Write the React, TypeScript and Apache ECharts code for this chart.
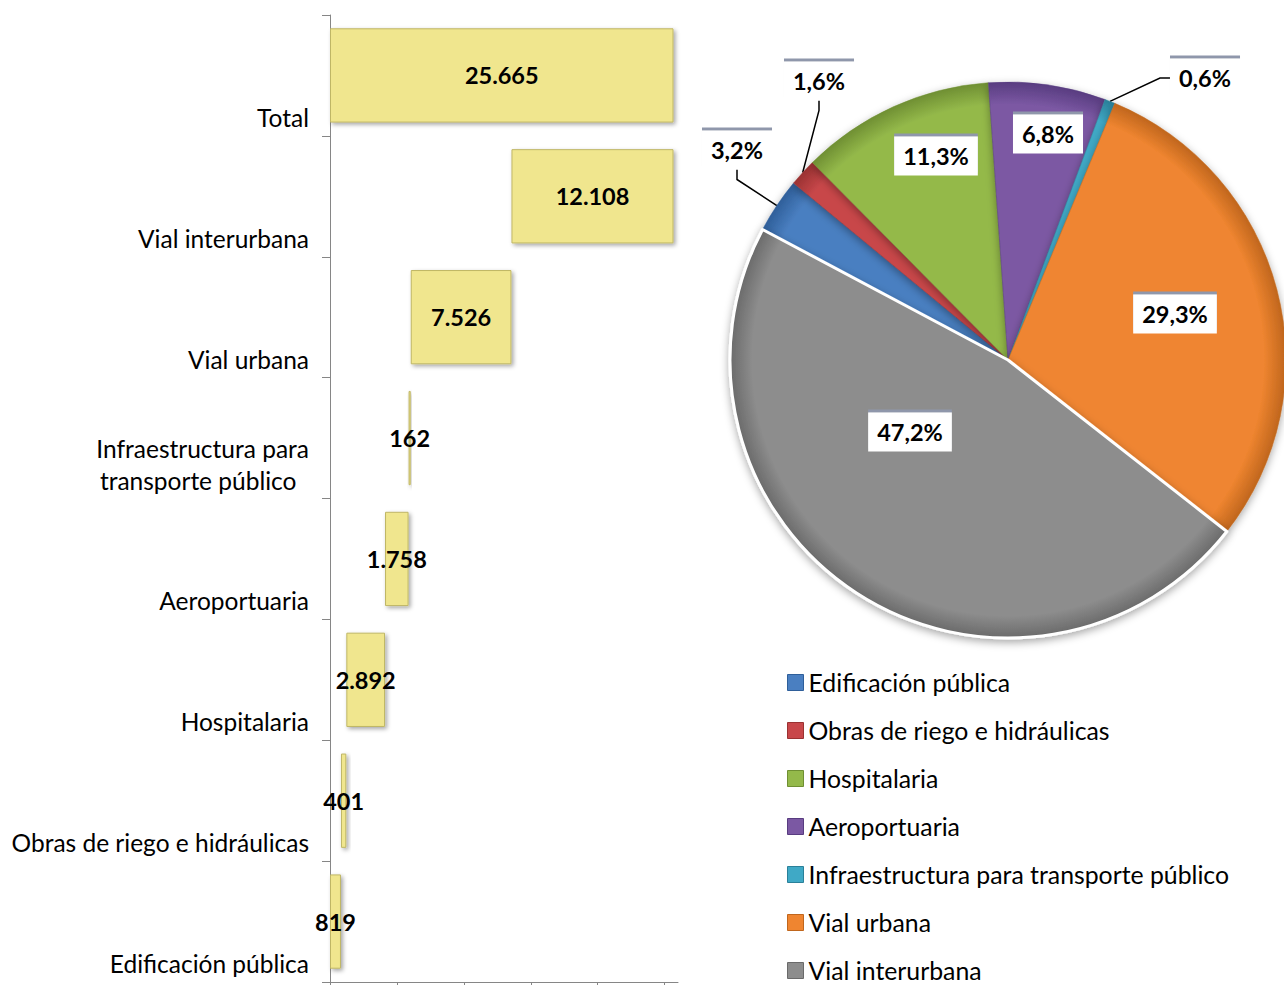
import React, { useEffect, useRef } from 'react';
import * as echarts from 'echarts';

// ---------- data ----------
const categories = [
  'Edificación pública',
  'Obras de riego e hidráulicas',
  'Hospitalaria',
  'Aeroportuaria',
  'Infraestructura para transporte público',
  'Vial urbana',
  'Vial interurbana',
  'Total',
];
const amounts = [819, 401, 2892, 1758, 162, 7526, 12108, 25665];
const xTicks = [0, 5000, 10000, 15000, 20000, 25000];

const pieNames = [
  'Edificación pública',
  'Obras de riego e hidráulicas',
  'Hospitalaria',
  'Aeroportuaria',
  'Infraestructura para transporte público',
  'Vial urbana',
  'Vial interurbana',
];
const pieShares = [3.2, 1.6, 11.3, 6.8, 0.6, 29.3, 47.2];

// ---------- styles ----------
const pieColors = ['#4A7FC1', '#C8474A', '#94B94A', '#7B58A3', '#3FA9C6', '#EF8530', '#8D8D8D'];
const pieRims = ['#2F5F9A', '#9A3232', '#6F8F33', '#583C80', '#2A8099', '#C0661D', '#6A6A6A'];
const FONT = 'Lato, "Noto Sans", sans-serif';
const FS = 24.5;
const FSB = 23.5;
const PIE_C = [1008, 360];
const PIE_R = 278;
// label centres relative to pie centre (layout styling)
const labelOffsets = [
  [-271, -210],
  [-189, -279],
  [-72, -204],
  [40, -226],
  [197, -282],
  [167, -46],
  [-98, 72],
];
const outsideLabel = [true, true, false, false, true, false, false];
const INFRA = 'Infraestructura para transporte público';

const fmtThousands = (v: number) => String(v).replace(/\B(?=(\d{3})+(?!\d))/g, '.');
const fmtPct = (v: number) => v.toFixed(1).replace('.', ',') + '%';

// waterfall invisible bases
const bases = amounts.map((_, i) =>
  i === amounts.length - 1 ? 0 : amounts.slice(0, i).reduce((a, b) => a + b, 0)
);

const option: any = {
  animation: false,
  backgroundColor: '#ffffff',
  textStyle: { fontFamily: FONT },
  grid: { left: 330, right: 606, top: 15, bottom: 3, containLabel: false, outerBoundsMode: 'none' },
  xAxis: {
    type: 'value',
    min: 0,
    max: 26000,
    interval: 5000,
    axisLine: { show: true, lineStyle: { color: '#868686', width: 1 } },
    axisTick: { show: true, length: 5, customValues: xTicks, lineStyle: { color: '#868686' } },
    axisLabel: { show: false },
    splitLine: { show: false },
  },
  yAxis: {
    type: 'category',
    data: categories,
    axisLine: { show: true, lineStyle: { color: '#868686', width: 1 } },
    axisTick: { show: true, length: 8, lineStyle: { color: '#868686' } },
    axisLabel: {
      interval: 0,
      hideOverlap: false,
      fontFamily: FONT,
      fontSize: FS,
      color: '#000',
      margin: 21,
      verticalAlign: 'middle',
      formatter: (v: string) =>
        v === INFRA
          ? '{s2|}\n{t|Infraestructura para}\n{t|transporte público  }'
          : '{s1|}\n{t|' + v + '}',
      rich: {
        s1: { height: 84, fontSize: FS },
        s2: { height: 52, fontSize: FS },
        t: { fontFamily: FONT, fontSize: FS, color: '#000', lineHeight: 32 },
      },
    },
    splitLine: { show: false },
  },
  legend: {
    orient: 'vertical',
    left: 787,
    top: 670,
    height: 330,
    padding: 0,
    itemWidth: 16,
    itemHeight: 16,
    itemGap: 23,
    icon: 'rect',
    selectedMode: false,
    textStyle: { fontFamily: FONT, fontSize: 24.8, color: '#000', lineHeight: 24 },
    data: pieNames.map((n, i) => ({
      name: n,
      itemStyle: { color: pieColors[i], borderColor: pieRims[i], borderWidth: 1, shadowBlur: 0 },
    })),
  },
  series: [
    {
      type: 'bar',
      stack: 'w',
      data: bases,
      barWidth: '78%',
      silent: true,
      itemStyle: { color: 'rgba(0,0,0,0)' },
      emphasis: { disabled: true },
    },
    {
      type: 'bar',
      stack: 'w',
      data: amounts,
      barWidth: '78%',
      itemStyle: {
        color: '#F0E68E',
        borderColor: '#BFB665',
        borderWidth: 1,
        shadowBlur: 4,
        shadowOffsetX: 2,
        shadowOffsetY: 2,
        shadowColor: 'rgba(0,0,0,0.35)',
      },
      label: {
        show: true,
        position: 'inside',
        formatter: (p: any) => fmtThousands(p.value),
        fontFamily: FONT,
        fontSize: FSB,
        fontWeight: 'bold',
        color: '#000',
      },
      emphasis: { disabled: true },
    },
    {
      type: 'pie',
      center: PIE_C,
      radius: PIE_R,
      startAngle: 152,
      clockwise: true,
      avoidLabelOverlap: false,
      emphasis: { disabled: true },
      itemStyle: {
        shadowBlur: 8,
        shadowOffsetY: 3,
        shadowColor: 'rgba(0,0,0,0.35)',
      },
      label: {
        show: true,
        position: 'outside',
        formatter: (p: any) => fmtPct(p.value),
        fontFamily: FONT,
        fontSize: FSB,
        fontWeight: 'bold',
        color: '#000',
        lineHeight: 22,
        backgroundColor: '#fff',
        padding: [9, 9, 8, 9],
        shadowColor: '#8f97ab',
        shadowOffsetY: -3,
        shadowBlur: 0,
      },
      labelLine: { show: true, length: 10, length2: 10, lineStyle: { color: '#000', width: 1.5 } },
      labelLayout: (params: any) => {
        const o = labelOffsets[params.dataIndex];
        return { x: PIE_C[0] + o[0], y: PIE_C[1] + o[1], align: 'center', verticalAlign: 'middle' };
      },
      data: pieNames.map((n, i) => ({
        name: n,
        value: pieShares[i],
        itemStyle: {
          color: {
            type: 'radial',
            x: PIE_C[0],
            y: PIE_C[1],
            r: PIE_R,
            global: true,
            colorStops: [
              { offset: 0, color: pieColors[i] },
              { offset: 0.92, color: pieColors[i] },
              { offset: 1, color: pieRims[i] },
            ],
          },
          borderColor: i === 6 ? '#ffffff' : pieRims[i],
          borderWidth: i === 6 ? 3 : 0.5,
        },
        labelLine: { show: outsideLabel[i] },
      })),
    },
  ],
};

export default function App() {
  const ref = useRef<HTMLDivElement>(null);
  useEffect(() => {
    const chart = echarts.init(ref.current as HTMLDivElement, null, { renderer: 'svg' });
    chart.setOption(option);
    return () => chart.dispose();
  }, []);
  return (
    <div
      ref={ref}
      style={{ position: 'absolute', left: 0, top: 0, width: 1284, height: 985, background: '#fff' }}
    />
  );
}
